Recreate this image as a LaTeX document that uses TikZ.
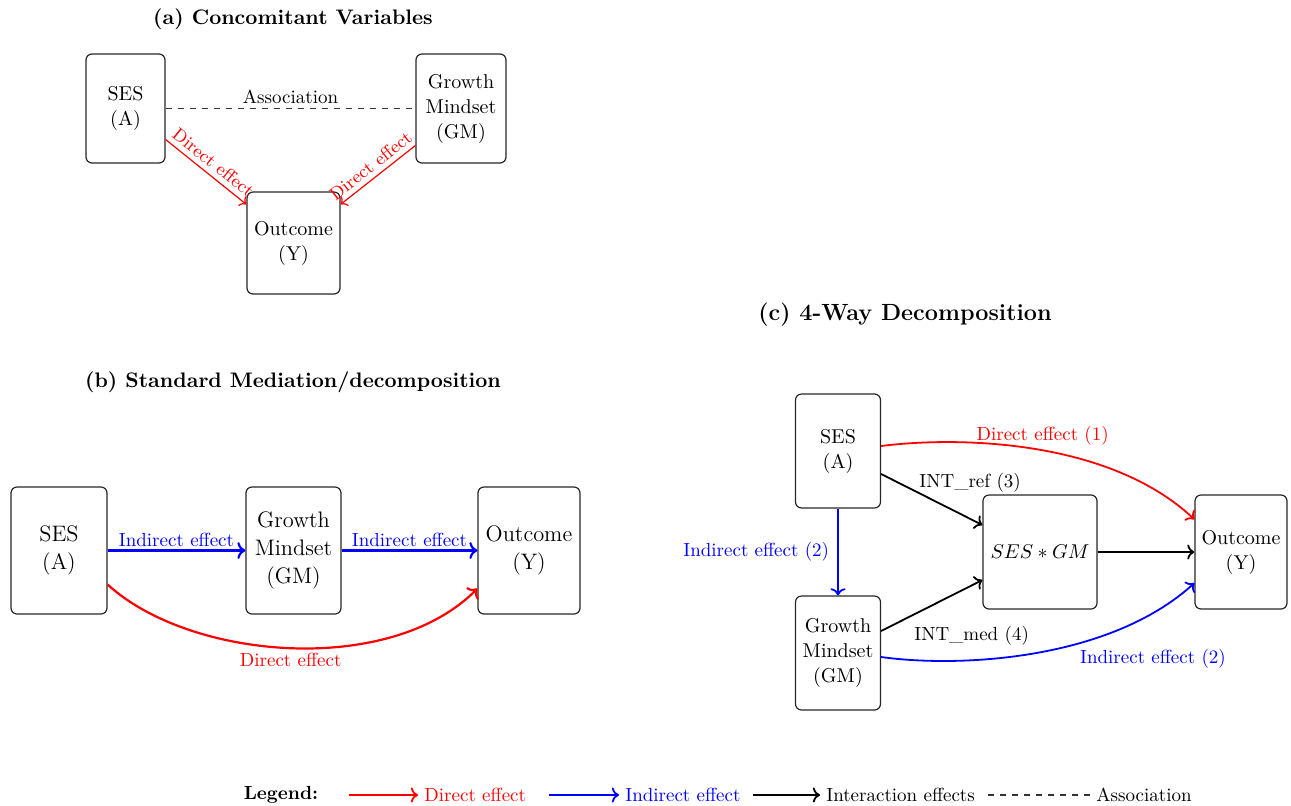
\documentclass[tikz,border=0pt]{standalone}
\usetikzlibrary{arrows.meta,calc}
\begin{document}
\begin{tikzpicture}[x=0.5pt,y=-0.5pt,
  box/.style={draw=black!85, rounded corners=3pt, line width=0.6pt, align=center, inner sep=0pt, font=\fontsize{10}{12.5}\selectfont},
  bigbox/.style={box, font=\fontsize{11.2}{13.8}\selectfont},
  ttl/.style={font=\fontsize{10.5}{12}\selectfont\bfseries},
  lbl/.style={font=\fontsize{9.5}{11}\selectfont},
  slbl/.style={font=\fontsize{9}{10}\selectfont},
  arr/.style={->, line width=0.9pt},
  barr/.style={->, line width=1.1pt},
  thinarr/.style={->, line width=0.6pt},
]
\useasboundingbox (0,0) rectangle (1291,805);

% ---------- Panel (a)
\node[ttl] (ta) at (293,19) {(a) Concomitant Variables};
\node[box, minimum width=39.5pt, minimum height=54.5pt] (sesA) at (125.5,108.5) {SES\\(A)};
\node[box, minimum width=45pt, minimum height=54.5pt] (gmA) at (461,108.5) {Growth\\Mindset\\(GM)};
\node[box, minimum width=46.5pt, minimum height=51pt] (outA) at (293.5,243) {Outcome\\(Y)};
\draw[dashed, line width=0.6pt, black!80] (sesA.east) -- (gmA.west)
  node[midway, above, lbl, black, inner sep=2pt] {Association};
\draw[thinarr, red] ([yshift=-15.5pt]sesA.east) -- ([yshift=-6.5pt]outA.north west)
  node[midway, sloped, above, slbl, inner sep=2.5pt] {Direct effect};
\draw[thinarr, red, <-] ([yshift=-6.5pt]outA.north east) -- ([yshift=-18.5pt]gmA.west)
  node[midway, sloped, above, slbl, inner sep=2.5pt] {Direct effect};

% ---------- Panel (b)
\node[ttl] (tb) at (293,382) {(b) Standard Mediation/decomposition};
\node[bigbox, minimum width=48pt, minimum height=63.5pt] (sesB) at (59,550.5) {SES\\(A)};
\node[bigbox, minimum width=47.5pt, minimum height=63.5pt] (gmB) at (293.5,550.5) {Growth\\Mindset\\(GM)};
\node[bigbox, minimum width=51pt, minimum height=63.5pt] (outB) at (529,550.5) {Outcome\\(Y)};
\draw[barr, blue] (sesB) -- (gmB) node[midway, above, lbl, inner sep=1.5pt] {Indirect effect};
\draw[barr, blue] (gmB) -- (outB) node[midway, above, lbl, inner sep=1.5pt] {Indirect effect};
\draw[barr, red] ([yshift=-17pt]sesB.east) .. controls (190,660) and (390,677) .. ([yshift=-19pt]outB.west)
  node[pos=0.5, below, lbl, inner sep=2pt] {Direct effect};

% ---------- Panel (c)
\node[ttl, font=\fontsize{11.7}{13}\selectfont\bfseries] (tc) at (905,315) {(c) 4-Way Decomposition};
\node[box, minimum width=42.5pt, minimum height=57pt] (sesC) at (838,451) {SES\\(A)};
\node[box, minimum width=42.5pt, minimum height=57pt] (gmC) at (838,653) {Growth\\Mindset\\(GM)};
\node[box, minimum width=57pt, minimum height=57pt] (intC) at (1040,552) {$SES*GM$};
\node[box, minimum width=46pt, minimum height=57pt] (outC) at (1241,552) {Outcome\\(Y)};
\draw[arr, red] ([yshift=2.5pt]sesC.east) .. controls (960,436) and (1110,440) .. ([yshift=-12.5pt]outC.north west)
  node[pos=0.52, above, lbl, inner sep=2pt] {Direct effect (1)};
\draw[arr, black] ([yshift=-11.5pt]sesC.east) -- ([yshift=13.5pt]intC.west)
  node[pos=0.35, anchor=south west, lbl, inner sep=1pt, yshift=-1.5pt] {INT\_ref (3)};
\draw[arr, black] ([yshift=11pt]gmC.east) -- ([yshift=-14pt]intC.west)
  node[pos=0.3, anchor=north west, lbl, inner sep=1pt, yshift=-4pt] {INT\_med (4)};
\draw[arr, black] (intC) -- (outC);
\draw[arr, blue] (sesC) -- (gmC) node[midway, left, lbl, inner sep=4pt] {Indirect effect (2)};
\draw[arr, blue] ([yshift=-2pt]gmC.east) .. controls (960,668) and (1110,660) .. ([yshift=-15.5pt]outC.west)
  node[pos=0.62, anchor=north west, lbl, inner sep=1pt, yshift=-1.5pt] {Indirect effect (2)};

% ---------- Legend
\node[font=\fontsize{9.5}{11}\selectfont\bfseries] (lg) at (281,795) {Legend:};
\coordinate (l1s) at (349,795);
\node[lbl, red, anchor=west, inner sep=3pt] (l1t) at (418,795) {Direct effect};
\draw[arr, red] (l1s) -- (l1t.west);
\coordinate (l2s) at (549,795);
\node[lbl, blue, anchor=west, inner sep=3pt] (l2t) at (619,795) {Indirect effect};
\draw[arr, blue] (l2s) -- (l2t.west);
\coordinate (l3s) at (753,795);
\node[lbl, anchor=west, inner sep=3pt] (l3t) at (820,795) {Interaction effects};
\draw[arr, black] (l3s) -- (l3t.west);
\coordinate (l4s) at (988,795);
\node[lbl, anchor=west, inner sep=3pt] (l4t) at (1090,795) {Association};
\draw[dashed, line width=0.6pt, black!80] (l4s) -- (l4t.west);
\end{tikzpicture}
\end{document}
